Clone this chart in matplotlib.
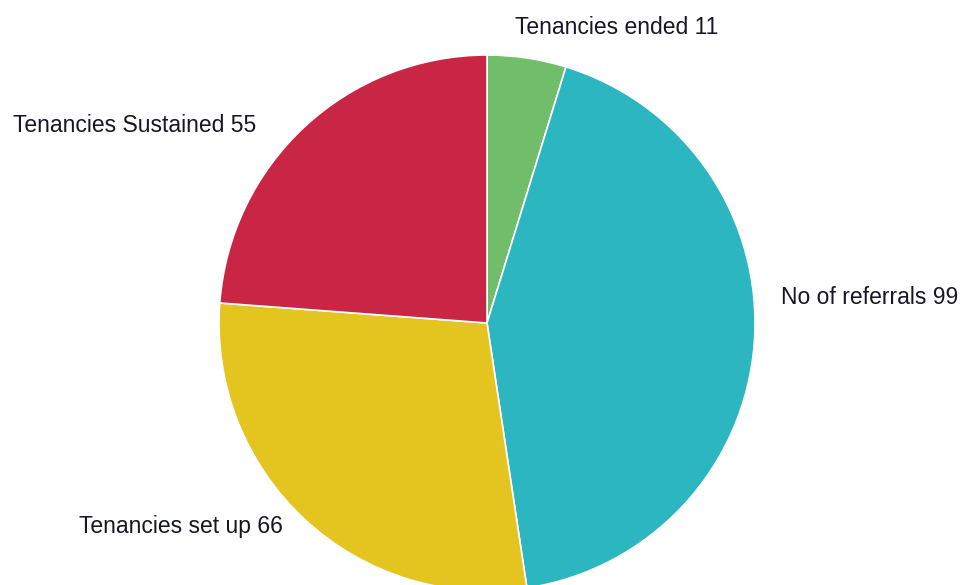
import matplotlib
matplotlib.use("Agg")
import matplotlib.pyplot as plt

categories = ["Tenancies ended", "No of referrals", "Tenancies set up", "Tenancies Sustained"]
values = [11, 99, 66, 55]
colors = ["#70bd6a", "#2bb6c0", "#e4c520", "#c82644"]

plt.rcParams['font.family'] = ['Liberation Sans', 'DejaVu Sans']

W, H = 960, 585
fig = plt.figure(figsize=(W / 100, H / 100), dpi=100)
cx, cy, r = 487, 323, 268
ax = fig.add_axes([(cx - r) / W, (H - cy - r) / H, 2 * r / W, 2 * r / H])
ax.pie(values, colors=colors, startangle=90, counterclock=False, radius=1,
       wedgeprops=dict(edgecolor="white", linewidth=1.2))
ax.set_xlim(-1, 1)
ax.set_ylim(-1, 1)
ax.set_aspect("equal")
ax.axis("off")

# label placements (pixel positions, from top-left)
label_pos = [(617, 27, "center"), (781, 298, "left"), (283, 527, "right"), (256, 125, "right")]
for cat, val, (px, py, ha) in zip(categories, values, label_pos):
    fig.text(px / W, 1 - py / H, f"{cat} {val}", ha=ha, va="center",
             fontsize=16.5, color="#161624")

fig.savefig("out.png", dpi=100)
